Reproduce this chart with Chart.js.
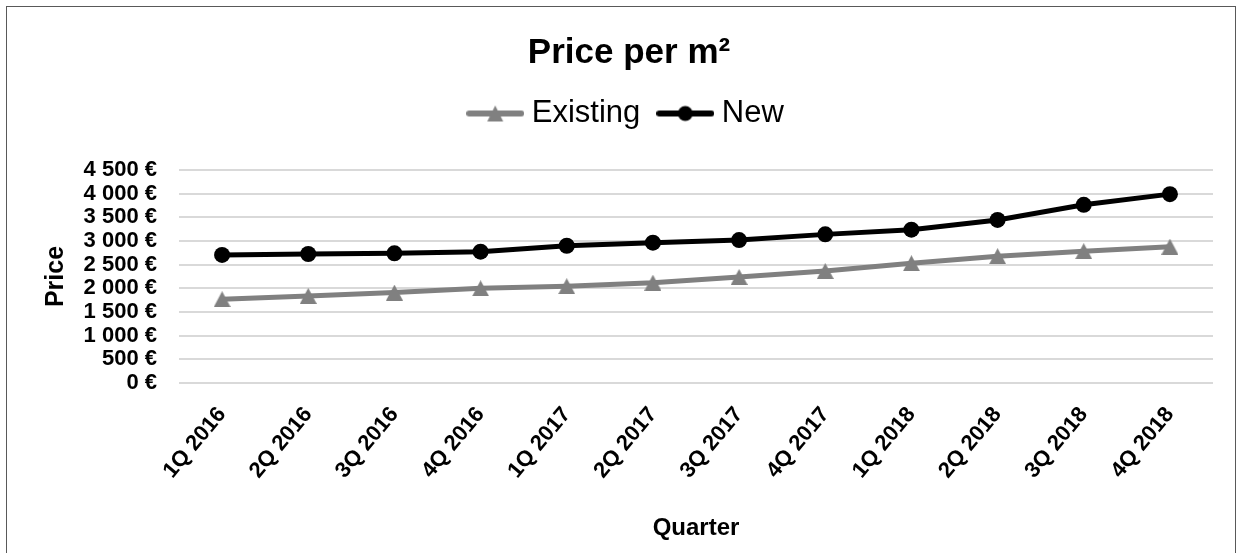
<!DOCTYPE html>
<html>
<head>
<meta charset="utf-8">
<title>Price per m²</title>
<script src="https://cdn.jsdelivr.net/npm/chart.js@4.4.1/dist/chart.umd.min.js"></script>
<style>
  html, body { margin: 0; padding: 0; background: #ffffff; }
  #wrap { position: relative; width: 1243px; height: 553px; overflow: hidden; }
  #wrap canvas { position: absolute; left: 0; top: 0; }
  #frame {
    position: absolute; left: 6px; top: 6px; width: 1230px; height: 570px;
    border: 1.5px solid #595959; box-sizing: border-box; pointer-events: none;
  }
</style>
</head>
<body>
<div id="wrap">
  <canvas id="chart" width="1243" height="553"></canvas>
  <div id="frame"></div>
</div>
<script>
// Quarterly average price per square metre
const quarters = ['1Q 2016', '2Q 2016', '3Q 2016', '4Q 2016',
                  '1Q 2017', '2Q 2017', '3Q 2017', '4Q 2017',
                  '1Q 2018', '2Q 2018', '3Q 2018', '4Q 2018'];
const existingPrice = [1770, 1840, 1910, 2000, 2045, 2120, 2240, 2365, 2530, 2680, 2785, 2880];
const newPrice      = [2705, 2725, 2740, 2775, 2900, 2965, 3020, 3140, 3240, 3445, 3765, 3990];
const yTickLabels = ['0 €', '500 €', '1 000 €', '1 500 €', '2 000 €',
                     '2 500 €', '3 000 €', '3 500 €', '4 000 €', '4 500 €'];

const GREY = '#808080';
const BLACK = '#000000';
const FONT = "'Liberation Sans', Arial, sans-serif";

// Isosceles triangle marker
function triangleMarker(w, h, color) {
  const c = document.createElement('canvas');
  c.width = w; c.height = h;
  const g = c.getContext('2d');
  g.fillStyle = color;
  g.beginPath();
  g.moveTo(w / 2, 0);
  g.lineTo(w, h);
  g.lineTo(0, h);
  g.closePath();
  g.fill();
  return c;
}

// Legend swatch: a short line with the series marker in its middle
function legendSwatch(color, marker) {
  const w = 58, h = 22;
  const c = document.createElement('canvas');
  c.width = w; c.height = h;
  const g = c.getContext('2d');
  g.strokeStyle = color;
  g.lineWidth = 6;
  g.lineCap = 'round';
  g.beginPath();
  g.moveTo(3, h / 2);
  g.lineTo(w - 3, h / 2);
  g.stroke();
  g.fillStyle = color;
  if (marker === 'triangle') {
    g.beginPath();
    g.moveTo(w / 2, h / 2 - 8);
    g.lineTo(w / 2 + 8, h / 2 + 8);
    g.lineTo(w / 2 - 8, h / 2 + 8);
    g.closePath();
    g.fill();
  } else {
    g.beginPath();
    g.arc(w / 2, h / 2, 7.5, 0, Math.PI * 2);
    g.fill();
  }
  return c;
}

const triPoint = triangleMarker(17, 16, GREY);
const swatches = [legendSwatch(GREY, 'triangle'), legendSwatch(BLACK, 'circle')];

new Chart(document.getElementById('chart'), {
  type: 'line',
  data: {
    labels: quarters,
    datasets: [
      {
        label: 'Existing',
        data: existingPrice,
        borderColor: GREY,
        backgroundColor: GREY,
        borderWidth: 5,
        pointStyle: triPoint,
        pointRadius: 9,
        tension: 0
      },
      {
        label: 'New',
        data: newPrice,
        borderColor: BLACK,
        backgroundColor: BLACK,
        borderWidth: 5,
        pointStyle: 'circle',
        pointRadius: 8,
        pointBorderWidth: 0,
        tension: 0
      }
    ]
  },
  options: {
    responsive: false,
    animation: false,
    devicePixelRatio: 1,
    layout: { padding: { left: 15, right: 0, top: 0, bottom: 0 } },
    plugins: {
      title: {
        display: true,
        text: 'Price per m²',
        color: BLACK,
        font: { family: FONT, size: 35, weight: 'bold', lineHeight: 1.2 },
        padding: { top: 32, bottom: 0 }
      },
      legend: {
        display: true,
        position: 'top',
        labels: {
          usePointStyle: true,
          pointStyleWidth: 42,
          padding: 24,
          color: BLACK,
          font: { family: FONT, size: 31 },
          generateLabels(chart) {
            const items = Chart.defaults.plugins.legend.labels.generateLabels(chart);
            items.forEach((it, i) => { it.pointStyle = swatches[i]; });
            return items;
          }
        }
      },
      // spacer between the legend and the plot area
      subtitle: {
        display: true,
        text: '',
        weight: 500,
        font: { size: 1, lineHeight: 1 },
        padding: { top: 30, bottom: 0 }
      },
      tooltip: { enabled: false }
    },
    scales: {
      x: {
        offset: true,
        grid: { display: false, drawTicks: false },
        border: { display: false },
        ticks: {
          color: BLACK,
          font: { family: FONT, size: 22, weight: 'bold' },
          minRotation: 50,
          maxRotation: 50,
          padding: 19,
          autoSkip: false
        },
        title: {
          display: true,
          text: 'Quarter',
          color: BLACK,
          font: { family: FONT, size: 24, weight: 'bold', lineHeight: 1.2 },
          padding: { top: 0, bottom: 10 }
        },
        afterFit(scale) { scale.height = 170; }
      },
      y: {
        min: 0,
        max: 4500,
        grid: { color: '#d9d9d9', lineWidth: 2, drawTicks: false },
        border: { display: false },
        ticks: {
          stepSize: 500,
          autoSkip: false,
          color: BLACK,
          padding: 22,
          font: { family: FONT, size: 22, weight: 'bold' },
          callback: (value, index) => yTickLabels[index]
        },
        title: {
          display: true,
          text: 'Price',
          color: BLACK,
          font: { family: FONT, size: 25, weight: 'bold', lineHeight: 1.2 },
          padding: { top: 26, bottom: 0 }
        },
        afterFit(scale) { scale.width = 164; }
      },
      // empty right-hand gutter after the last quarter
      gutter: {
        type: 'linear',
        position: 'right',
        display: true,
        grid: { display: false, drawTicks: false },
        border: { display: false },
        ticks: { display: false },
        afterFit(scale) { scale.width = 30; }
      }
    }
  }
});
</script>
</body>
</html>
